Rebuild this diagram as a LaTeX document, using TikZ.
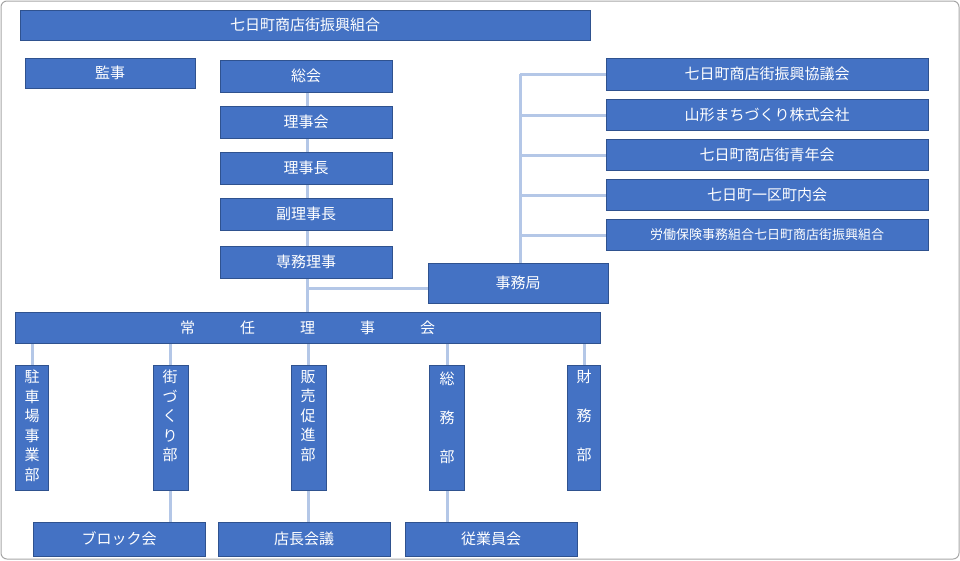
\documentclass[tikz,border=0pt]{standalone}
\usepackage{fontspec}
\newfontfamily\jp{Noto Sans CJK JP}
\definecolor{boxblue}{HTML}{4472C4}
\definecolor{boxedge}{HTML}{2F528F}
\definecolor{linkblue}{HTML}{B4C7E7}
\begin{document}
\begin{tikzpicture}[x=1pt,y=-1pt,
  every node/.style={font=\jp\fontsize{15}{17}\selectfont, text=white},
  orgbox/.style={draw=boxedge, fill=boxblue, line width=1pt},
  vtext/.style={align=center, anchor=north, inner sep=0pt},
  link/.style={draw=linkblue, line width=3pt}]
\useasboundingbox (0,0) rectangle (960,560);
\draw[rounded corners=6, draw=gray!70, line width=1pt] (1,1) rectangle (959,559);
% links
\draw[link] (307,92) -- (307,312);
\draw[link] (307,288) -- (428,288);
\draw[link] (520,263) -- (520,74);
\foreach \yy in {74,115,155,195,235} \draw[link] (520,\yy) -- (606,\yy);
\foreach \xx in {32,170,308,447,584} \draw[link] (\xx,343) -- (\xx,365);
\foreach \xx in {170,308,447} \draw[link] (\xx,490) -- (\xx,522);
% boxes
\draw[orgbox] (20,10) rectangle node (top) {七日町商店街振興組合} (590,40);
\draw[orgbox] (25,58) rectangle node (kanji) {監事} (195,88);
\draw[orgbox] (220,60) rectangle node (sokai) {総会} (392,92);
\draw[orgbox] (220,106) rectangle node (rijikai) {理事会} (392,138);
\draw[orgbox] (220,152) rectangle node (rijicho) {理事長} (392,184);
\draw[orgbox] (220,198) rectangle node (fuku) {副理事長} (392,230);
\draw[orgbox] (220,246) rectangle node (senmu) {専務理事} (392,278);
\draw[orgbox] (428,263) rectangle node (jimu) {事務局} (608,303);
\draw[orgbox] (606,58) rectangle node (kyogi) {七日町商店街振興協議会} (928,90);
\draw[orgbox] (606,99) rectangle node (yamagata) {山形まちづくり株式会社} (928,130);
\draw[orgbox] (606,139) rectangle node (seinen) {七日町商店街青年会} (928,170);
\draw[orgbox] (606,179) rectangle node (chonai) {七日町一区町内会} (928,210);
\draw[orgbox] (606,219) rectangle node[font=\jp\fontsize{13}{15}\selectfont] (rodo) {労働保険事務組合七日町商店街振興組合} (928,250);
\draw[orgbox] (15,312) rectangle node (jonin) {常\hspace{3em}任\hspace{3em}理\hspace{3em}事\hspace{3em}会} (600,343);
\draw[orgbox] (15,365) rectangle (48,490);
\draw[orgbox] (153,365) rectangle (188,490);
\draw[orgbox] (291,365) rectangle (326,490);
\draw[orgbox] (429,365) rectangle (464,490);
\draw[orgbox] (567,365) rectangle (600,490);
\node[vtext, font=\jp\fontsize{15}{19.5}\selectfont] (chusha) at (32,370) {駐\\車\\場\\事\\業\\部};
\node[vtext, font=\jp\fontsize{15}{19.5}\selectfont] (machi) at (170,370) {街\\づ\\く\\り\\部};
\node[vtext, font=\jp\fontsize{15}{19.5}\selectfont] (hanbai) at (308,370) {販\\売\\促\\進\\部};
\node[vtext, font=\jp\fontsize{15}{39}\selectfont] (somu) at (447,372) {総\\務\\部};
\node[vtext, font=\jp\fontsize{15}{39}\selectfont] (zaimu) at (584,370) {財\\務\\部};
\draw[orgbox] (33,522) rectangle node (block) {ブロック会} (205,556);
\draw[orgbox] (218,522) rectangle node (tencho) {店長会議} (390,556);
\draw[orgbox] (405,522) rectangle node (jugyo) {従業員会} (577,556);
\end{tikzpicture}
\end{document}
